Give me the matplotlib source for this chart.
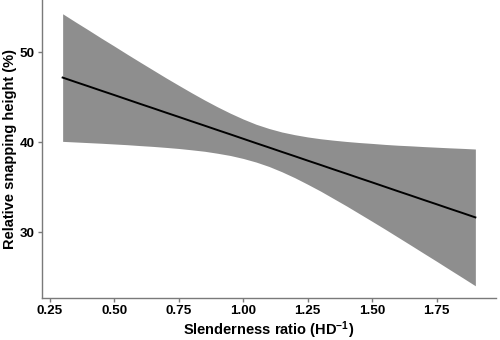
import matplotlib
matplotlib.use("Agg")
from matplotlib import pyplot as plt

plt.rcParams['font.family'] = ['Liberation Sans', 'DejaVu Sans']
plt.rcParams['mathtext.fontset'] = 'custom'
plt.rcParams['mathtext.rm'] = 'Liberation Sans'
plt.rcParams['mathtext.default'] = 'regular'

# values (fitted line and its confidence band)
ratio = [0.30, 0.35, 0.40, 0.45, 0.50, 0.55, 0.60, 0.65, 0.70, 0.75, 0.80, 0.85,
         0.90, 0.95, 1.00, 1.05, 1.10, 1.15, 1.20, 1.25, 1.30, 1.35, 1.40, 1.45,
         1.50, 1.55, 1.60, 1.65, 1.70, 1.75, 1.80, 1.85, 1.90]
fit = [47.18, 46.69, 46.21, 45.72, 45.24, 44.75, 44.26, 43.78, 43.29, 42.81, 42.32, 41.84,
       41.35, 40.87, 40.38, 39.89, 39.41, 38.92, 38.44, 37.95, 37.47, 36.98, 36.50, 36.01,
       35.53, 35.04, 34.55, 34.07, 33.58, 33.10, 32.61, 32.13, 31.64]
upper = [54.27, 53.36, 52.47, 51.56, 50.68, 49.78, 48.90, 48.03, 47.16, 46.32, 45.49, 44.69,
         43.93, 43.22, 42.57, 41.99, 41.52, 41.13, 40.83, 40.58, 40.38, 40.22, 40.08, 39.96,
         39.86, 39.75, 39.66, 39.59, 39.51, 39.44, 39.37, 39.31, 39.24]
lower = [40.09, 40.02, 39.95, 39.88, 39.80, 39.72, 39.62, 39.53, 39.42, 39.30, 39.15, 38.99,
         38.77, 38.52, 38.19, 37.79, 37.30, 36.71, 36.05, 35.32, 34.56, 33.74, 32.92, 32.06,
         31.20, 30.33, 29.44, 28.55, 27.65, 26.76, 25.85, 24.95, 24.04]

xticks = [0.25, 0.50, 0.75, 1.00, 1.25, 1.50, 1.75]
yticks = [30, 40, 50]

fig = plt.figure(figsize=(5, 3.4), dpi=100)
ax = fig.add_axes([0.084, 0.124, 0.908, 0.876])

ax.fill_between(ratio, lower, upper, color="#8e8e8e", linewidth=0)
ax.plot(ratio, fit, color="black", linewidth=1.4)

ax.set_xlim(0.22, 1.98)
ax.set_ylim(22.7, 55.8)
ax.set_xticks(xticks)
ax.set_xticklabels(["%.2f" % t for t in xticks])
ax.set_yticks(yticks)

for s in ["top", "right"]:
    ax.spines[s].set_visible(False)
for s in ["left", "bottom"]:
    ax.spines[s].set_color("#7a7a7a")
    ax.spines[s].set_linewidth(1.0)

ax.tick_params(colors="#7a7a7a", length=3, width=1.0, labelcolor="black",
               labelsize=9.7, pad=2.5)
for lab in ax.get_xticklabels() + ax.get_yticklabels():
    lab.set_fontweight("bold")

ax.set_xlabel(r"Slenderness ratio (HD$^{-1}$)", fontsize=10.5, fontweight="bold")
ax.set_ylabel("Relative snapping height (%)", fontsize=10.5, fontweight="bold")
ax.xaxis.set_label_coords(0.5, -0.072)
ax.yaxis.set_label_coords(-0.054, 0.5)

fig.savefig("out.png", dpi=100)
